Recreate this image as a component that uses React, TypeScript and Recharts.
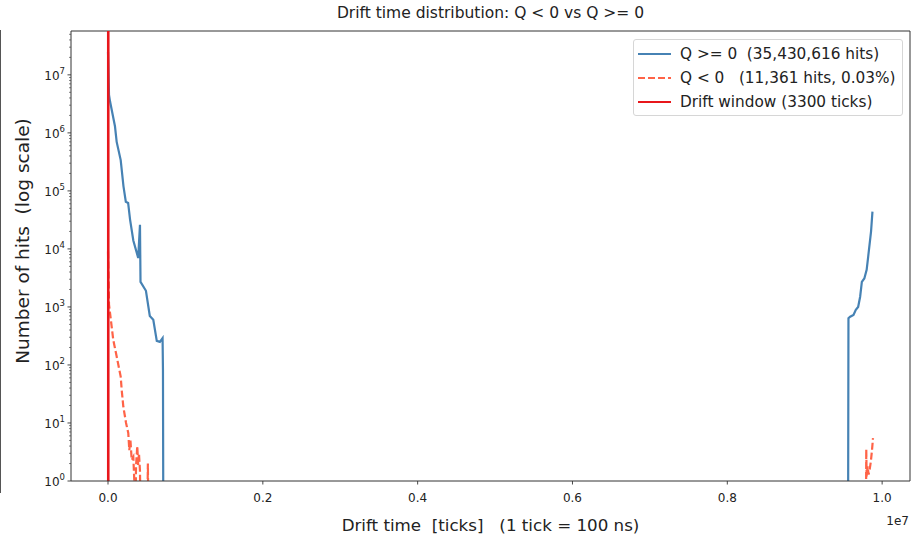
import { LineChart, Line, XAxis, YAxis, ReferenceLine } from 'recharts';

const FONT = '"DejaVu Sans", Verdana, sans-serif';

// empty bins: below the log floor, so the line drops out of the plot like matplotlib does
const ZERO = 0.1;

// Q >= 0 histogram (drift time in ticks, hits per bin)
const POS_T = [
  0, 13000, 26000, 90000, 112000, 164000, 200000, 230000, 260000, 285000, 327000, 390000, 413000, 420000,
  490000, 540000, 585000, 630000, 670000, 705000, 710000, 715000, 720000,
  9560000, 9565000, 9587000, 9630000, 9660000, 9690000, 9716000, 9738000, 9770000, 9800000,
  9820000, 9857000, 9875000,
];
const POS_N = [
  2.5e7, 4.5e6, 3.5e6, 1.3e6, 7e5, 3.4e5, 1.2e5, 6.5e4, 6.2e4, 3.2e4, 1.4e4, 7e3, 2.6e4, 2.7e3,
  1.9e3, 700, 600, 260, 250, 290, 82, ZERO, null,
  ZERO, 640, 680, 730, 890, 1000, 1500, 2700, 3100, 4350,
  7400, 2e4, 4.4e4,
];

// Q < 0 histogram
const NEG_T = [
  0, 13000, 26000, 68000, 112000, 164000, 177000, 198000, 233000, 262000, 275000, 290000, 306000, 327000,
  340000, 350000, 362000, 378000, 390000, 400000, 413000, 425000, 440000,
  505000, 515000, 525000, 540000,
  9790000, 9795000, 9800000, 9812000, 9825000, 9840000, 9855000, 9870000, 9882000,
];
const NEG_N = [
  9000, 1100, 790, 270, 140, 63, 37, 19, 10, 6.7, 3.4, 5, 2.3, 2.6,
  1, ZERO, 1.8, 4, 1.9, 3, 1.5, ZERO, null,
  ZERO, 2, ZERO, null,
  ZERO, 3.5, 1.2, 1.8, 1.3, 1.6, 2.2, 3.5, 5.5,
];

// vertical drift-window marker, drawn as a series so it sits on top of the histograms
const WINDOW_T = [3300, 3300];
const WINDOW_N = [1e9, ZERO];

const X_DOMAIN = [-478000, 10360000];
const Y_DOMAIN = [1, 5.7e7];
const X_TICKS = [0, 2e6, 4e6, 6e6, 8e6, 1e7];
const Y_MAJOR = [1, 10, 100, 1e3, 1e4, 1e5, 1e6, 1e7];
const Y_TICKS = Y_MAJOR.flatMap((m) => [1, 2, 3, 4, 5, 6, 7, 8, 9].map((k) => m * k)).filter(
  (v) => v <= Y_DOMAIN[1]
);

const LEGEND = [
  { label: 'Q >= 0  (35,430,616 hits)', color: '#4682b4', dash: undefined },
  { label: 'Q < 0   (11,361 hits, 0.03%)', color: '#ff6347', dash: '7 3' },
  { label: 'Drift window (3300 ticks)', color: '#e8161b', dash: undefined },
];

const posData = POS_T.map((t, i) => ({ t, n: POS_N[i] }));
const negData = NEG_T.map((t, i) => ({ t, n: NEG_N[i] }));
const windowData = WINDOW_T.map((t, i) => ({ t, n: WINDOW_N[i] }));

function YTick({ x, y, payload }: any) {
  const e = Math.log10(payload.value);
  const major = Math.abs(e - Math.round(e)) < 1e-9;
  return (
    <g>
      <line x1={x} x2={x - (major ? 3.5 : 2)} y1={y} y2={y} stroke="#333" strokeWidth={major ? 0.9 : 0.6} />
      {major && (
        <text x={x - 6} y={y + 5} textAnchor="end" fontSize={12} fill="#222" fontFamily={FONT}>
          10
          <tspan dy={-6} fontSize={8.5}>
            {Math.round(e)}
          </tspan>
        </text>
      )}
    </g>
  );
}

function XTick({ x, y, payload }: any) {
  return (
    <g>
      <line x1={x} x2={x} y1={y} y2={y + 3.5} stroke="#333" strokeWidth={0.9} />
      <text x={x} y={y + 21} textAnchor="middle" fontSize={12} fill="#222" fontFamily={FONT}>
        {(payload.value / 1e7).toFixed(1)}
      </text>
    </g>
  );
}

function XLabel({ viewBox }: any) {
  const cx = viewBox.x + viewBox.width / 2;
  return (
    <g fontFamily={FONT} fill="#222">
      <text x={cx} y={531} textAnchor="middle" fontSize={16.7} style={{ whiteSpace: 'pre' }}>
        {'Drift time  [ticks]   (1 tick = 100 ns)'}
      </text>
      <text x={909} y={525} textAnchor="end" fontSize={12}>
        1e7
      </text>
    </g>
  );
}

function YLabel() {
  return (
    <text
      x={22}
      y={241}
      transform="rotate(-90 22 241)"
      textAnchor="middle"
      dominantBaseline="central"
      fontSize={18.5}
      fill="#222"
      fontFamily={FONT}
      style={{ whiteSpace: 'pre' }}
    >
      {'Number of hits  (log scale)'}
    </text>
  );
}

export default function App() {
  return (
    <div style={{ position: 'absolute', left: 0, top: 0, width: 913, height: 535, background: '#fff', fontFamily: FONT }}>
      <div style={{ position: 'absolute', left: 0, top: 30, width: 1, height: 463, background: '#555' }} />
      <div
        style={{
          position: 'absolute',
          left: 71,
          width: 839,
          top: 4,
          textAlign: 'center',
          fontSize: 15.5,
          lineHeight: '19px',
          color: '#222',
          whiteSpace: 'pre',
        }}
      >
        {'Drift time distribution: Q < 0 vs Q >= 0'}
      </div>

      <LineChart width={913} height={535} margin={{ top: 31, right: 3, bottom: 0, left: 0 }}>
        <XAxis
          dataKey="t"
          type="number"
          domain={X_DOMAIN}
          allowDataOverflow
          ticks={X_TICKS}
          interval={0}
          tick={<XTick />}
          tickLine={false}
          tickSize={0}
          tickMargin={0}
          height={54}
          axisLine={{ stroke: '#333', strokeWidth: 1 }}
          label={<XLabel />}
        />
        <YAxis
          type="number"
          scale="log"
          domain={Y_DOMAIN}
          allowDataOverflow
          ticks={Y_TICKS}
          interval={0}
          tick={<YTick />}
          tickLine={false}
          tickSize={0}
          tickMargin={0}
          width={71}
          axisLine={{ stroke: '#333', strokeWidth: 1 }}
          label={<YLabel />}
        />
        <ReferenceLine y={Y_DOMAIN[1]} stroke="#333" strokeWidth={1} ifOverflow="visible" />
        <ReferenceLine x={X_DOMAIN[1]} stroke="#333" strokeWidth={1} ifOverflow="visible" />
        <Line
          data={posData}
          dataKey="n"
          type="linear"
          stroke="#4682b4"
          strokeWidth={2.2}
          dot={false}
          activeDot={false}
          isAnimationActive={false}
        />
        <Line
          data={negData}
          dataKey="n"
          type="linear"
          stroke="#ff6347"
          strokeWidth={2.2}
          strokeDasharray="7 3"
          dot={false}
          activeDot={false}
          isAnimationActive={false}
        />
        <Line
          data={windowData}
          dataKey="n"
          type="linear"
          stroke="#e8161b"
          strokeWidth={2.6}
          dot={false}
          activeDot={false}
          isAnimationActive={false}
        />
      </LineChart>

      <div
        style={{
          position: 'absolute',
          left: 633,
          top: 39,
          width: 270,
          height: 77,
          boxSizing: 'border-box',
          border: '1px solid #d6d6d6',
          borderRadius: 3,
          background: 'rgba(255,255,255,0.85)',
          paddingTop: 2,
        }}
      >
        {LEGEND.map((item) => (
          <div key={item.label} style={{ display: 'flex', alignItems: 'center', height: 24 }}>
            <svg width={46} height={24} style={{ flex: 'none' }}>
              <line x1={4} x2={37} y1={12} y2={12} stroke={item.color} strokeWidth={2.2} strokeDasharray={item.dash} />
            </svg>
            <span style={{ fontSize: 15.3, color: '#222', whiteSpace: 'pre' }}>{item.label}</span>
          </div>
        ))}
      </div>
    </div>
  );
}
